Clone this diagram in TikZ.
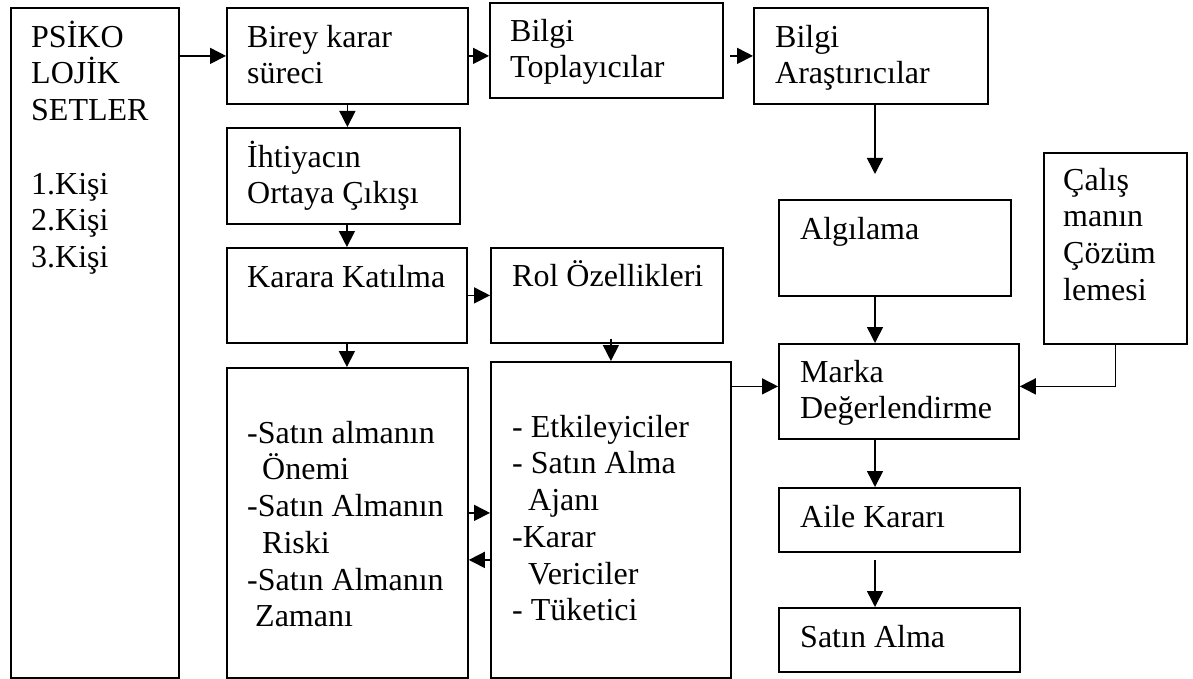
\documentclass[tikz,border=0pt]{standalone}
\usepackage{fontspec}
\setmainfont{Liberation Serif}
\usetikzlibrary{arrows.meta}
\newcommand\firstline{\rule{0pt}{30pt}}

\begin{document}
\begin{tikzpicture}[
  x=1pt, y=-1pt,
  box/.style={draw,line width=1.8pt,anchor=north west,inner sep=0pt},
  txt/.style={anchor=north west,inner sep=0pt,align=left,
              font=\fontsize{32}{36.7}\selectfont},
  arr/.style={-{Triangle[length=16pt,width=16pt]},line width=1.6pt}
]
\useasboundingbox (0,0) rectangle (1193,679);
% boxes
\node[box,minimum width=168,minimum height=670] (psiko) at (10,7) {};
\node[box,minimum width=241,minimum height=96] (birey) at (226,7) {};
\node[box,minimum width=233,minimum height=95] (topla) at (489,2) {};
\node[box,minimum width=234,minimum height=96] (arast) at (753,7) {};
\node[box,minimum width=233,minimum height=96] (ihtiyac) at (226,127) {};
\node[box,minimum width=240,minimum height=95] (karara) at (226,247) {};
\node[box,minimum width=232,minimum height=95] (rol) at (490,247) {};
\node[box,minimum width=241,minimum height=310] (onem) at (226,367) {};
\node[box,minimum width=240,minimum height=316] (etki) at (490,361) {};
\node[box,minimum width=232,minimum height=96] (algi) at (778,199) {};
\node[box,minimum width=143,minimum height=191] (calis) at (1043,152) {};
\node[box,minimum width=240,minimum height=95] (marka) at (778,343) {};
\node[box,minimum width=241,minimum height=64] (aile) at (778,487) {};
\node[box,minimum width=241,minimum height=64] (satin) at (778,607) {};
% texts
\node[txt] (psiko-t) at ([shift={(21,10)}]psiko.north west)
  {\firstline PSİKO\\LOJİK\\SETLER\\[36.7pt]1.Kişi\\2.Kişi\\3.Kişi};
\node[txt] (birey-t) at ([shift={(21,10)}]birey.north west) {\firstline Birey karar\\süreci};
\node[txt] (topla-t) at ([shift={(21,9)}]topla.north west) {\firstline Bilgi\\Toplayıcılar};
\node[txt] (arast-t) at ([shift={(22,10)}]arast.north west) {\firstline Bilgi\\Araştırıcılar};
\node[txt] (ihtiyac-t) at ([shift={(21,10)}]ihtiyac.north west) {\firstline İhtiyacın\\Ortaya Çıkışı};
\node[txt] (karara-t) at ([shift={(21,10)}]karara.north west) {\firstline Karara Katılma};
\node[txt] (rol-t) at ([shift={(22,9)}]rol.north west) {\firstline Rol Özellikleri};
\node[txt] (onem-t) at ([shift={(21,46)}]onem.north west)
  {\firstline -Satın almanın\\\hspace*{15pt}Önemi\\-Satın Almanın\\\hspace*{15pt}Riski\\-Satın Almanın\\\hspace*{8pt}Zamanı};
\node[txt] (etki-t) at ([shift={(22,46)}]etki.north west)
  {\firstline - Etkileyiciler\\- Satın Alma\\\hspace*{16pt}Ajanı\\-Karar\\\hspace*{16pt}Vericiler\\- Tüketici};
\node[txt] (algi-t) at ([shift={(22,10)}]algi.north west) {\firstline Algılama};
\node[txt] (calis-t) at ([shift={(20,8)}]calis.north west) {\firstline Çalış\\manın\\Çözüm\\lemesi};
\node[txt] (marka-t) at ([shift={(22,9)}]marka.north west) {\firstline Marka\\Değerlendirme};
\node[txt] (aile-t) at ([shift={(22,10)}]aile.north west) {\firstline Aile Kararı};
\node[txt] (satin-t) at ([shift={(22,10)}]satin.north west) {\firstline Satın Alma};
% right column
\coordinate (algi-in) at (875,174);
% arrows
\draw[arr] (birey.west -| psiko.east) -- (birey.west);
\draw[arr] (birey.east) -- (birey.east -| topla.west);
\draw[arr] ([xshift=-23pt]arast.west) -- (arast.west);
\draw[arr] (birey.south) -- (birey.south |- ihtiyac.north);
\draw[arr] (ihtiyac.south -| karara.north) -- (karara.north);
\draw[arr] (karara.east) -- (karara.east -| rol.west);
\draw[arr] (karara.south) -- (karara.south |- onem.north);
\draw[arr] ([yshift=5pt]rol.south -| etki.north) -- (etki.north);
\draw[arr] ([yshift=10pt]onem.east) -- ([yshift=10pt]onem.east -| etki.west);
\draw[arr] ([yshift=-40pt]etki.west) -- ([yshift=-40pt]etki.west -| onem.east);
\draw[arr] ([yshift=5pt]marka.west -| etki.east) -- ([yshift=5pt]marka.west);
\draw[arr] (calis.south) |- ([yshift=5pt]marka.east);
\draw[arr] (arast.south -| algi-in) -- (algi-in);
\draw[arr] (algi.south -| algi-in) -- (marka.north -| algi-in);
\draw[arr] (marka.south -| algi-in) -- (aile.north -| algi-in);
\draw[arr] ([yshift=-7pt]aile.south -| algi-in) -- (satin.north -| algi-in);
\end{tikzpicture}
\end{document}
